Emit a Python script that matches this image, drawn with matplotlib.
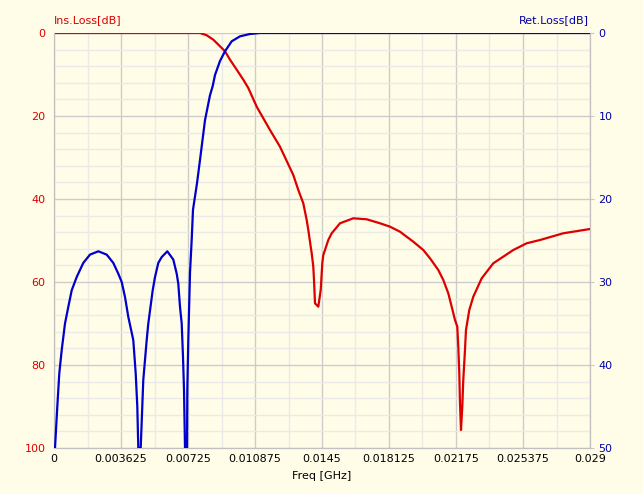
import numpy as np
import matplotlib
matplotlib.use("Agg")
import matplotlib.pyplot as plt
from matplotlib.ticker import MultipleLocator

# Insertion loss (left axis, dB)
ins_freq = [0, 0.007899, 0.008262, 0.008619, 0.008981, 0.009252, 0.009522,
            0.009885, 0.010242, 0.010512, 0.010967, 0.011686, 0.012227,
            0.012947, 0.013218, 0.013488, 0.013672, 0.013759, 0.013889,
            0.013943, 0.014029, 0.014067, 0.014121, 0.014300, 0.014430,
            0.014516, 0.014570, 0.014662, 0.014841, 0.015025, 0.015474,
            0.016194, 0.016919, 0.017638, 0.018179, 0.018719, 0.019440,
            0.019981, 0.020343, 0.020792, 0.021063, 0.021333, 0.021517,
            0.021696, 0.021820, 0.021874, 0.021928, 0.021966, 0.022020,
            0.022090, 0.022144, 0.022236, 0.022290, 0.022469, 0.022686,
            0.023140, 0.023768, 0.024850, 0.025575, 0.026295, 0.027555,
            0.029]
ins_loss = [0, 0, 0.55, 1.61, 3.20, 4.41, 6.43,
            8.84, 11.25, 13.25, 17.76, 23.37, 27.40,
            34.22, 37.83, 41.04, 45.06, 47.47, 51.49,
            53.08, 56.31, 59.52, 65.13, 65.95, 61.93,
            55.49, 53.49, 52.29, 49.88, 48.26, 45.85,
            44.65, 44.89, 45.85, 46.67, 47.88, 50.29,
            52.29, 54.29, 57.11, 59.52, 62.72, 65.95,
            69.16, 70.77, 75.59, 82.00, 89.23, 95.66,
            90.05, 83.61, 76.38, 71.57, 66.75, 63.54,
            59.11, 55.49, 52.29, 50.67, 49.88, 48.26,
            47.23]

# Return loss (right axis, dB)
ret_freq = [0.000054, 0.000179, 0.000287, 0.000417, 0.000595, 0.000774,
            0.000958, 0.001228, 0.001585, 0.001948, 0.002397, 0.002851,
            0.003208, 0.003479, 0.003663, 0.003841, 0.004020, 0.004290,
            0.004420, 0.004507, 0.004561,
            0.004691, 0.004831, 0.005015, 0.005102, 0.005340, 0.005465,
            0.005643, 0.005827, 0.006130, 0.006455, 0.006639, 0.006725,
            0.006817, 0.006909, 0.006979, 0.007034, 0.007088,
            0.007196, 0.007212, 0.007266, 0.007358, 0.007450, 0.007520,
            0.007737, 0.007899, 0.008170, 0.008440, 0.008586, 0.008711,
            0.008981, 0.009252, 0.009614, 0.010063, 0.010604, 0.011145,
            0.029]
ret_loss = [50, 45.0, 41.0, 38.2, 35.0, 33.0,
            31.0, 29.4, 27.7, 26.7, 26.3, 26.7,
            27.7, 29.0, 30.0, 31.8, 34.2, 37.0,
            41.0, 45.0, 50,
            50, 41.8, 37.0, 35.0, 31.0, 29.4,
            27.7, 27.0, 26.3, 27.3, 29.0, 30.2,
            33.0, 35.0, 39.0, 43.0, 50,
            50, 43.0, 37.0, 28.9, 24.9, 21.3,
            18.1, 15.3, 10.5, 7.5, 6.4, 5.06,
            3.37, 2.2, 1.0, 0.40, 0.12, 0,
            0]

freq_ticks = [0, 0.003625, 0.00725, 0.010875, 0.0145, 0.018125, 0.02175, 0.025375, 0.029]
freq_labels = ["0", "0.003625", "0.00725", "0.010875", "0.0145", "0.018125",
               "0.02175", "0.025375", "0.029"]

bg = "#FFFDE8"
red = "#DD0000"
blue = "#0000CC"

fig = plt.figure(figsize=(6.43, 4.94), dpi=100, facecolor=bg)
ax = fig.add_axes([54 / 643, 1 - 448 / 494, 536 / 643, 415 / 494])
ax.set_facecolor(bg)
ax2 = ax.twinx()

ax.set_xlim(0, 0.029)
ax.set_ylim(100, 0)
ax2.set_ylim(50, 0)

ax.set_xticks(freq_ticks)
ax.set_xticklabels(freq_labels)
ax.xaxis.set_minor_locator(MultipleLocator(0.003625 / 2))
ax.set_yticks([0, 20, 40, 60, 80, 100])
ax.yaxis.set_minor_locator(MultipleLocator(4))
ax2.set_yticks([0, 10, 20, 30, 40, 50])

ax.grid(True, which="major", color="#CCCCCC", linewidth=1.0)
ax.grid(True, which="minor", color="#EAEAEA", linewidth=1.0)
ax.set_axisbelow(True)

ax.tick_params(axis="x", which="both", length=0, labelsize=8, colors="black", pad=4)
ax.tick_params(axis="y", which="both", length=0, labelsize=8, labelcolor=red, pad=6)
ax2.tick_params(axis="y", which="major", length=3, color="#C8C8C8", labelsize=8, labelcolor="#0000AA", pad=3)
ax2.tick_params(axis="y", which="minor", length=0)

for a in (ax, ax2):
    for s in a.spines.values():
        s.set_color("#C0C0C0")
    a.spines["top"].set_visible(False)

ax.plot(ins_freq, ins_loss, color=red, linewidth=1.6, zorder=3)
ax2.plot(ret_freq, ret_loss, color=blue, linewidth=1.6, zorder=3)

ax.set_xlabel("Freq [GHz]", fontsize=8, labelpad=5)
fig.text(54 / 643, 1 - 20 / 494, "Ins.Loss[dB]", color=red, fontsize=8, ha="left", va="center")
fig.text(589 / 643, 1 - 20 / 494, "Ret.Loss[dB]", color="#0000AA", fontsize=8, ha="right", va="center")

fig.savefig("out.png", dpi=100, facecolor=bg)
